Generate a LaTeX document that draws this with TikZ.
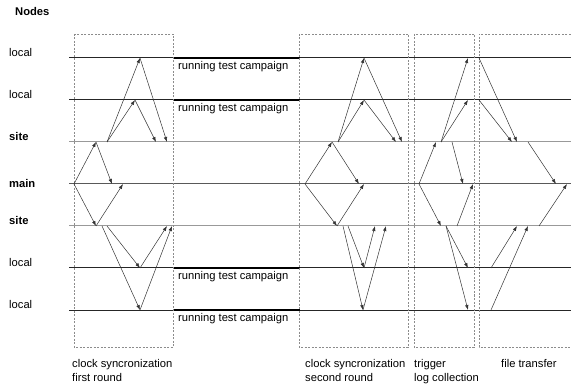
\documentclass[tikz,border=0pt]{standalone}
\usepackage{fontspec}
\setmainfont{Liberation Sans}
\usetikzlibrary{arrows.meta}

\tikzset{
    lane/.style={line width=1pt},
    busy/.style={line width=2pt, draw=black},
    msg/.style={draw=black!80, line width=0.5pt, -{Latex[length=5pt,width=3.5pt]}},
    phase/.style={draw=black!45, line width=0.6pt, dash pattern=on 2pt off 1.5pt},
    caption/.style={anchor=base west, inner sep=0pt, align=left},
}

\begin{document}
\begin{tikzpicture}[x=1pt, y=-1pt, font=\fontsize{11.2}{14}\selectfont]
        \useasboundingbox (0,0) rectangle (571,385);

        \node[caption] (nodes) at (15, 15.5) {\textbf{Nodes}};

        % lanes with their row labels
        \foreach \id/\y/\dy/\txt/\col in {la/58/-1.5/local/black!85, lb/100/-1.5/local/black!85,
                                          sa/142/-1.5/\textbf{site}/black!40, m/184/3.5/\textbf{main}/black!65,
                                          sb/226/-1.5/\textbf{site}/black!40, lc/268/-1.5/local/black!85,
                                          ld/310/-1.5/local/black!85} {
            \coordinate (\id w) at (69, \y);
            \coordinate (\id e) at (571, \y);
            \draw[lane, draw=\col] (\id w) -- (\id e);
            \node[caption] (\id lbl) at (9, \y+\dy) {\txt};
        }

        % running test campaign on the local nodes
        \foreach \id/\y in {la/58, lb/100, lc/268, ld/310} {
            \coordinate (\id rs) at (173, \y);
            \coordinate (\id re) at (300, \y);
            \draw[busy] (\id rs) -- (\id re);
            \node[caption] (\id run) at (178, \y+11.5) {running test campaign};
        }

        % phases
        \draw[phase] (74, 34) rectangle (173, 347);
        \draw[phase] (299, 34) rectangle (408, 347);
        \draw[phase] (414, 34) rectangle (474, 347);
        \draw[phase] (574, 34) -- (479, 34) -- (479, 347) -- (574, 347);

        \node[caption] (sync1) at (72, 381) {clock syncronization\\first round};
        \node[caption] (sync2) at (305, 381) {clock syncronization\\second round};
        \node[caption] (trig) at (414, 381) {trigger\\log collection};
        \node[caption] (xfer) at (501, 367) {file transfer};

        % message end points
        \foreach \n/\x/\y in {a0/74/184, a1/96/142, a2/112/184, a3/107/142, a4/135/100, a5/140/58,
                              a6/156/142, a7/167/142, a8/96/226, a9/123/184, a10/102/226, a11/107/226,
                              a12/140/268, a13/140/310, a14/167/226, a15/172/226,
                              b0/305/184, b1/332/142, b2/359/184, b3/338/142, b4/364/100, b5/364/58,
                              b6/396/142, b7/402/142, b8/337/226, b9/364/184, b10/343/226, b11/348/226,
                              b12/364/268, b13/363/310, b14/375/226, b15/386/226,
                              c0/419/184, c1/436/142, c3/441/142, c4/468/100, c5/468/58, c6/452/142,
                              c7/463/184, c8/441/226, c9/457/226, c10/473/184, c11/446/226,
                              c12/468/268, c13/468/310,
                              d1/479/58, d2/479/100, d3/517/142, d4/512/142, d5/528/142, d6/556/184,
                              d7/491/268, d8/491/310, d9/517/226, d10/528/226, d11/539/226, d12/567/184} {
            \coordinate (\n) at (\x, \y);
        }

        % messages
        \foreach \s/\t in {a0/a1, a1/a2, a3/a4, a3/a5, a4/a6, a5/a7, a0/a8, a8/a9,
                           a10/a13, a11/a12, a12/a14, a13/a15,
                           b0/b1, b1/b2, b3/b4, b3/b5, b4/b6, b5/b7, b0/b8, b8/b9,
                           b10/b13, b11/b12, b12/b14, b13/b15,
                           c0/c1, c3/c4, c3/c5, c6/c7, c0/c8, c9/c10, c11/c12, c11/c13,
                           d1/d3, d2/d4, d5/d6, d7/d9, d8/d10, d11/d12} {
            \draw[msg] (\s) -- (\t);
        }
    \end{tikzpicture}
\end{document}
